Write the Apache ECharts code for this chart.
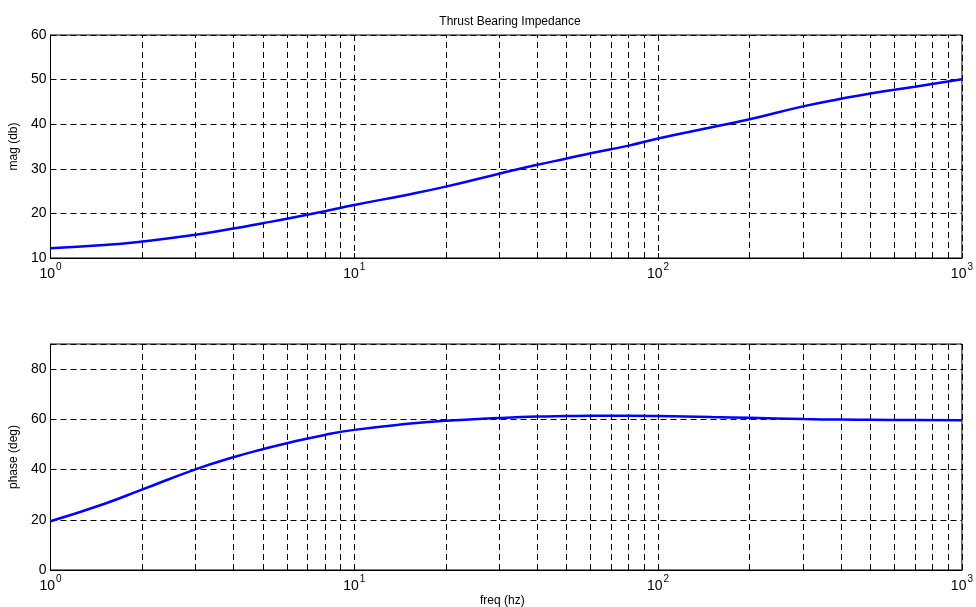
<!DOCTYPE html>
<html>
<head>
<meta charset="utf-8">
<script src="https://cdn.jsdelivr.net/npm/echarts@6/dist/echarts.min.js"></script>
<style>
html,body{margin:0;padding:0;background:#fff;}
#chart{width:976px;height:607px;}
</style>
</head>
<body>
<div id="chart"></div>
<script>
// Frequencies (Hz)
var freq = [1, 1.5, 2, 3, 4, 5, 6, 8, 10, 15, 20, 30, 40, 50, 60, 80, 100, 150, 200, 300, 400, 500, 700, 1000];
// Magnitude (dB)
var mag = [12.2, 12.9, 13.7, 15.2, 16.6, 17.8, 18.8, 20.5, 21.9, 24.2, 26.0, 28.9, 30.9, 32.3, 33.5, 35.2, 36.8, 39.3, 41.1, 44.0, 45.7, 46.9, 48.4, 50.1];
// Phase (deg)
var phase = [19.4, 26.3, 32.0, 40.1, 44.9, 48.1, 50.5, 53.8, 55.8, 58.2, 59.4, 60.5, 61.1, 61.3, 61.4, 61.4, 61.3, 60.9, 60.6, 60.1, 59.9, 59.8, 59.7, 59.6];
// Minor log grid positions
var minorX = [2,3,4,5,6,7,8,9,20,30,40,50,60,70,80,90,200,300,400,500,600,700,800,900];

var title = 'Thrust Bearing Impedance';
var magLabel = 'mag (db)';
var phaseLabel = 'phase (deg)';
var freqLabel = 'freq (hz)';

var FONT = 'Liberation Sans, Arial, Helvetica, sans-serif';
var dash = [6, 4];

function pairs(ys) { return freq.map(function (f, i) { return [f, ys[i]]; }); }

function xAxisCfg(gi) {
  return {
    type: 'log', logBase: 10, min: 1, max: 1000, gridIndex: gi,
    axisLine: { show: true, onZero: false, lineStyle: { color: '#000', width: 1 } },
    axisTick: { show: true, inside: true, length: 5, lineStyle: { color: '#000' } },
    splitLine: { show: true, lineStyle: { color: '#000', type: dash, width: 1 } },
    axisLabel: {
      margin: 4, color: '#000', fontFamily: FONT,
      formatter: function (v) { return '{b|10}{s|' + Math.round(Math.log10(v)) + '}'; },
      rich: {
        b: { fontSize: 14, fontFamily: FONT, color: '#000', verticalAlign: 'bottom' },
        s: { fontSize: 10, fontFamily: FONT, color: '#000', verticalAlign: 'bottom', padding: [0, 0, 9, 1] }
      }
    }
  };
}

function yAxisCfg(gi, mn, mx, iv, nm) {
  return {
    type: 'value', gridIndex: gi, min: mn, max: mx, interval: iv,
    name: nm, nameLocation: 'middle', nameGap: 26,
    nameTextStyle: { fontSize: 12, fontFamily: FONT, color: '#000' },
    axisLine: { show: true, lineStyle: { color: '#000', width: 1 } },
    axisTick: { show: true, inside: true, length: 5, lineStyle: { color: '#000' } },
    splitLine: { show: true, lineStyle: { color: '#000', type: dash, width: 1 } },
    axisLabel: { margin: 4, color: '#000', fontSize: 14, fontFamily: FONT, showMaxLabel: mx % iv === 0 }
  };
}

function minorLines() {
  return {
    silent: true, symbol: ['none', 'none'], animation: false,
    label: { show: false },
    lineStyle: { color: '#000', type: dash, width: 1 },
    emphasis: { disabled: true },
    data: minorX.map(function (v) { return { xAxis: v }; })
  };
}

var chart = echarts.init(document.getElementById('chart'), null, { renderer: 'canvas' });
chart.setOption({
  animation: false,
  backgroundColor: '#fff',
  title: {
    text: title, left: 505, top: 11, textAlign: 'center',
    textStyle: { fontSize: 12, fontWeight: 'normal', color: '#000', fontFamily: FONT }
  },
  graphic: [
    { type: 'text', left: 480, top: 595, style: { text: freqLabel, fontSize: 12, fontFamily: FONT, fill: '#000' } }
  ],
  grid: [
    { left: 47, top: 35, width: 915, height: 223, show: true, borderColor: '#000', borderWidth: 1 },
    { left: 47, top: 344, width: 915, height: 226, show: true, borderColor: '#000', borderWidth: 1 }
  ],
  xAxis: [xAxisCfg(0), xAxisCfg(1)],
  yAxis: [yAxisCfg(0, 10, 60, 10, magLabel), yAxisCfg(1, 0, 90, 20, phaseLabel)],
  series: [
    { type: 'line', xAxisIndex: 0, yAxisIndex: 0, data: pairs(mag), showSymbol: false, smooth: 0.5,
      lineStyle: { color: '#0000ff', width: 2.5 }, z: 5, markLine: minorLines() },
    { type: 'line', xAxisIndex: 1, yAxisIndex: 1, data: pairs(phase), showSymbol: false, smooth: 0.5,
      lineStyle: { color: '#0000ff', width: 2.5 }, z: 5, markLine: minorLines() }
  ]
});
</script>
</body>
</html>
